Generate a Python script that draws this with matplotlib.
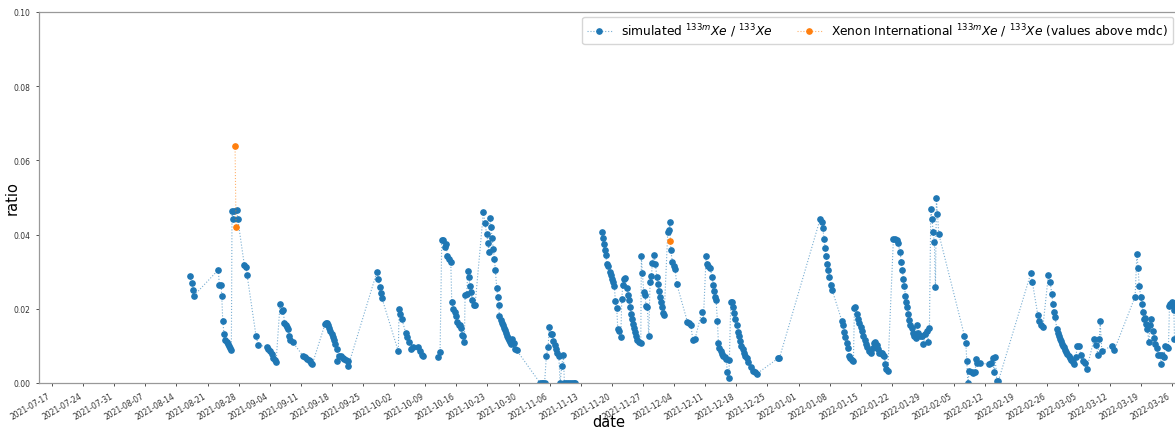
import numpy as np
import pandas as pd
import matplotlib
matplotlib.use("Agg")
import matplotlib.pyplot as plt
import matplotlib.dates as mdates

START = pd.Timestamp("2021-07-17")

# simulated ratio: sample time (days after START) and value; NaN marks a break in the line
sim_day = [
    31.06, 31.44, 31.67, 31.89, 37.43, 37.65, 38.04, 38.20, 38.42, 38.71,
    39.00, 39.28, 39.55, 39.82, 40.09, 40.36, 40.51, 40.74, 40.96, 41.57,
    41.80, 43.28, 43.66, 43.89, 45.92, 46.43, 48.32, 48.68, 49.07, 49.45,
    49.81, 50.19, 50.42, 51.32, 51.70, 52.06, 52.29, 52.60, 52.83, 53.05,
    53.28, 53.57, 54.18, 56.43, 56.83, 57.28, 57.73, 58.07, 58.29, 58.59,
    61.44, 61.67, 61.90, 62.12, 62.39, 62.66, 62.93, 63.20, 63.47, 63.76,
    64.08, 64.21, 64.60, 65.00, 65.41, 65.81, 66.22, 66.51, 66.69, 73.08,
    73.44, 73.82, 74.05, 74.27, 77.94, 78.10, 78.33, 78.71, 79.61, 79.97,
    80.35, 80.80, 81.32, 82.44, 82.83, 83.21, 83.57, 85.00,
    86.95, 87.33, 87.71, 88.07, 88.45, 88.68, 88.97, 89.35, 89.74, 89.96,
    90.32, 90.64, 90.93, 91.22, 91.54, 91.83, 92.06, 92.28, 92.57, 92.80,
    92.96, 93.34, 93.56, 93.79, 94.08, 94.31, 94.60, 94.98, 95.21, 97.07,
    97.46, 97.84, 98.13, 98.29, 98.58, 98.81, 99.03, 99.32, 99.55, 99.77,
    100.09, 100.32, 100.54, 100.68, 100.99, 101.22, 101.44, 101.67, 101.89, 102.12,
    102.34, 102.57, 102.79, 103.08, 103.31, 103.60, 103.98, 104.28, 104.59, 109.84,
    110.17, 110.51, 110.85, 111.26, 111.64, 111.93, 112.25, 112.54, 112.84, 113.15,
    113.44, 113.73, 114.05, 114.34, 114.72, 115.08, 115.31, 115.69, 116.14, 116.59,
    117.04, 117.49, 117.71, 120.00,
    123.72, 123.94, 124.17, 124.39, 124.62, 124.85, 125.21, 125.59, 125.82, 126.04,
    126.33, 126.56, 126.78, 127.10, 127.32, 127.62, 128.00, 128.22, 128.45, 128.81,
    129.04, 129.35, 129.64, 129.87, 130.09, 130.32, 130.54, 130.77, 130.99, 131.22,
    131.44, 131.74, 132.05, 132.50, 132.63, 132.86, 133.17, 133.47, 133.69, 133.98,
    134.30, 134.59, 134.89, 135.11, 135.49, 135.79, 136.10, 136.32, 136.55, 136.78,
    137.00, 137.23, 137.45, 137.75, 138.58, 138.87, 139.03, 139.25, 139.61, 139.99,
    140.22, 140.60, 142.99, 143.37, 143.75, 144.20, 144.72, 146.23, 146.59, 147.20,
    147.49, 147.72, 148.10, 148.55, 148.84, 149.07, 149.22, 149.45, 149.74, 149.97,
    150.19, 150.51, 150.80, 151.09, 151.41, 151.70, 152.00, 152.31, 152.44, 152.76,
    153.12, 153.34, 153.57, 153.79, 154.11, 154.40, 154.63, 154.85, 155.15, 155.46,
    155.76, 156.05, 156.36, 156.72, 157.26, 157.71, 158.23, 158.61, 163.47, 163.70,
    172.86, 173.24, 173.46, 173.76, 173.98, 174.21, 174.50, 174.72, 174.95, 175.26,
    175.56, 177.74, 177.96, 178.26, 178.55, 178.87, 179.09, 179.32, 179.61, 179.99,
    180.35, 180.58, 180.80, 181.12, 181.41, 181.70, 182.02, 182.31, 182.61, 182.92,
    183.21, 183.50, 183.82, 184.27, 184.72, 185.01, 185.30, 185.62, 185.91, 186.20,
    186.52, 186.81, 187.10, 187.33, 187.55, 187.78, 188.09, 189.35, 189.74, 190.12,
    190.34, 190.86, 191.09, 191.38, 191.61, 191.83, 192.06, 192.28, 192.51, 192.73,
    192.96, 193.18, 193.50, 193.79, 194.08, 194.40, 194.76, 194.98, 195.37, 195.82,
    196.11, 196.49, 196.87, 197.10, 197.46, 197.77, 198.06, 198.29, 198.58, 198.81,
    199.03, 199.26, 199.57, 205.33, 205.65, 205.87, 206.10, 206.46, 207.00, 207.36,
    207.74, 207.97, 208.26, 208.87, 210.96, 211.27, 211.72, 212.02, 212.24, 212.63,
    212.99, 220.28, 220.64, 221.86, 222.22, 222.60, 222.98, 224.24, 224.62, 225.01,
    225.23, 225.46, 225.75, 226.13, 226.36, 226.58, 226.81, 227.03, 227.26, 227.48,
    227.71, 227.93, 228.22, 228.52, 228.83, 229.12, 229.42, 229.73, 230.03, 230.41,
    230.77, 231.15, 231.53, 231.98, 232.43, 232.88, 234.53, 234.98, 235.36, 235.72,
    235.88, 236.26, 238.51, 239.10, 243.75, 244.14, 244.43, 244.66, 245.04, 245.26,
    245.49, 245.71, 246.01, 246.23, 246.52, 246.84, 247.13, 247.42, 247.74, 248.03,
    248.32, 248.64, 249.00, 249.38, 249.61, 249.90, 250.22, 250.51, 250.89, 251.25,
    251.48, 251.71, 252.02, 252.25, 252.47, 252.61,
]
sim_ratio = [
    .0288, .0269, .0251, .0235, .0305, .0264, .0264, .0235, .0168, .0132,
    .0117, .0110, .0104, .0099, .0095, .0089, .0464, .0442, .0464, .0466,
    .0442, .0318, .0313, .0292, .0126, .0102, .0098, .0092, .0085, .0077,
    .0068, .0061, .0056, .0213, .0195, .0197, .0162, .0157, .0150, .0146,
    .0128, .0117, .0110, .0074, .0070, .0065, .0061, .0058, .0055, .0051,
    .0159, .0162, .0163, .0155, .0147, .0139, .0131, .0123, .0115, .0106,
    .0092, .0058, .0074, .0072, .0068, .0065, .0062, .0058, .0047, .0298,
    .0280, .0260, .0243, .0228, .0085, .0200, .0186, .0173, .0135, .0125,
    .0111, .0092, .0096, .0096, .0087, .0075, .0074, np.nan,
    .0071, .0083, .0385, .0385, .0366, .0375, .0343, .0334, .0327, .0219,
    .0199, .0192, .0180, .0164, .0157, .0155, .0148, .0129, .0127, .0110,
    .0237, .0240, .0303, .0285, .0261, .0244, .0225, .0210, .0210, .0460,
    .0430, .0402, .0377, .0354, .0444, .0420, .0391, .0361, .0334, .0305,
    .0255, .0231, .0210, .0181, .0170, .0162, .0155, .0148, .0142, .0135,
    .0128, .0122, .0116, .0110, .0105, .0118, .0107, .0092, .0088, 0.0,
    0.0, 0.0, 0.0, .0074, .0096, .0152, .0132, .0132, .0114, .0103,
    .0092, .0081, .0074, 0.0, .0047, .0076, 0.0, 0.0, 0.0, 0.0,
    0.0, 0.0, 0.0, np.nan,
    .0406, .0391, .0375, .0358, .0345, .0321, .0315, .0300, .0290, .0280,
    .0272, .0261, .0220, .0201, .0146, .0139, .0123, .0226, .0264, .0280,
    .0283, .0255, .0236, .0223, .0205, .0186, .0173, .0159, .0148, .0137,
    .0126, .0117, .0110, .0107, .0341, .0296, .0246, .0236, .0208, .0204,
    .0126, .0273, .0288, .0323, .0345, .0321, .0287, .0267, .0249, .0233,
    .0218, .0205, .0188, .0182, .0408, .0413, .0435, .0358, .0327, .0315,
    .0306, .0267, .0165, .0161, .0157, .0117, .0119, .0192, .0171, .0341,
    .0321, .0315, .0309, .0287, .0264, .0249, .0232, .0223, .0168, .0108,
    .0094, .0085, .0079, .0074, .0070, .0065, .0029, .0013, .0063, .0218,
    .0218, .0204, .0188, .0172, .0155, .0137, .0126, .0112, .0101, .0092,
    .0081, .0074, .0067, .0056, .0042, .0033, .0029, .0025, .0067, .0067,
    .0442, .0433, .0417, .0388, .0363, .0341, .0321, .0305, .0287, .0264,
    .0251, .0168, .0155, .0137, .0123, .0108, .0095, .0074, .0068, .0063,
    .0059, .0201, .0204, .0186, .0173, .0162, .0150, .0139, .0128, .0117,
    .0105, .0096, .0087, .0081, .0093, .0108, .0111, .0102, .0091, .0082,
    .0080, .0082, .0076, .0074, .0051, .0038, .0031, .0388, .0388, .0385,
    .0377, .0354, .0327, .0305, .0280, .0261, .0235, .0219, .0204, .0186,
    .0171, .0155, .0148, .0135, .0128, .0121, .0157, .0135, .0126, .0128,
    .0105, .0132, .0139, .0110, .0148, .0469, .0442, .0408, .0379, .0258,
    .0498, .0456, .0402, .0128, .0108, .0060, 0.0, .0033, .0029, .0027,
    .0029, .0066, .0055, .0053, .0051, .0054, .0067, .0029, .0071, .0006,
    .0006, .0296, .0271, .0183, .0168, .0157, .0150, .0292, .0271, .0240,
    .0213, .0191, .0177, .0146, .0135, .0128, .0119, .0112, .0106, .0101,
    .0096, .0090, .0084, .0078, .0073, .0067, .0062, .0057, .0051, .0071,
    .0101, .0099, .0076, .0058, .0054, .0039, .0119, .0103, .0076, .0119,
    .0166, .0085, .0101, .0090, .0233, .0348, .0310, .0262, .0231, .0213,
    .0191, .0173, .0175, .0160, .0146, .0110, .0155, .0173, .0139, .0121,
    .0106, .0094, .0076, .0076, .0052, .0076, .0069, .0101, .0097, .0094,
    .0208, .0214, .0217, .0208, .0196, .0119,
]

# measured ratio (Xenon International, values above mdc)
xi_day = [41.19, 41.41, 90.0, 139.03]
xi_ratio = [0.064, 0.042, np.nan, 0.0384]

sim_t = START + pd.to_timedelta(sim_day, unit="D")
xi_t = START + pd.to_timedelta(xi_day, unit="D")

fig = plt.figure(figsize=(11.75, 4.31), dpi=100)
ax = fig.add_axes([39 / 1175, 1 - 384 / 431, 1139 / 1175, 371 / 431])

# thin see-through connecting line, solid markers
blue, orange = "#1f77b4", "#ff7f0e"
ax.plot(sim_t, sim_ratio, marker="o", markersize=3.8, linestyle=":", linewidth=0.8,
        color=(0.12, 0.47, 0.71, 0.6), mfc=blue, mec=blue,
        label=r"simulated $^{133m}Xe$ / $^{133}Xe$")
ax.plot(xi_t, xi_ratio, marker="o", markersize=3.8, linestyle=":", linewidth=0.8,
        color=(1.0, 0.5, 0.05, 0.6), mfc=orange, mec=orange,
        label=r"Xenon International $^{133m}Xe$ / $^{133}Xe$ (values above mdc)")

ax.set_ylim(0, 0.1)
ax.set_xlim(START - pd.Timedelta(days=2.93), START + pd.Timedelta(days=253.4))
ax.xaxis.set_major_locator(mdates.WeekdayLocator(byweekday=mdates.SA))
ax.xaxis.set_major_formatter(mdates.DateFormatter("%Y-%m-%d"))
ax.tick_params(axis="both", labelsize=5.5, length=2.5, width=0.6, colors="0.2")
for lab in ax.get_xticklabels():
    lab.set_rotation(30)
    lab.set_ha("right")
for sp in ax.spines.values():
    sp.set_color("0.6")
    sp.set_linewidth(0.9)

ax.set_xlabel("date", fontsize=10.5)
ax.set_ylabel("ratio", fontsize=10.5)
ax.xaxis.set_label_coords(0.5, -0.083)
ax.yaxis.set_label_coords(-0.017, 0.5)
ax.legend(loc="upper right", ncol=2, fontsize=8.8, borderaxespad=0.4)

fig.savefig("out.png", dpi=100)
